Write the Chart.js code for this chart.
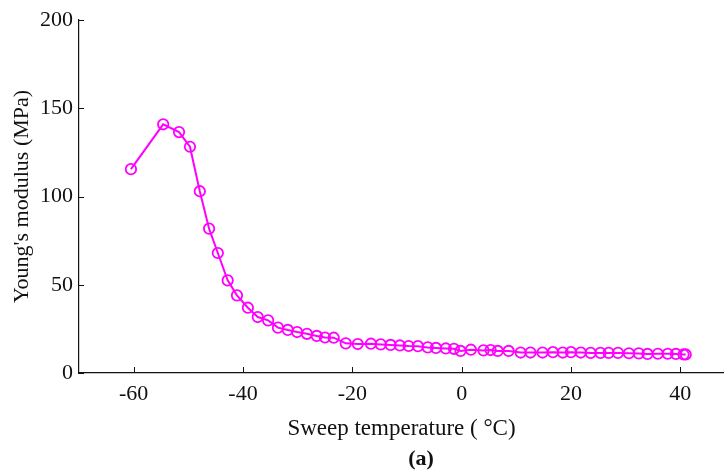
<!DOCTYPE html>
<html>
<head>
<meta charset="utf-8">
<script src="https://cdn.jsdelivr.net/npm/chart.js@4.4.1/dist/chart.umd.min.js"></script>
<style>
  html, body { margin: 0; padding: 0; background: #fff; }
  canvas { display: block; }
</style>
</head>
<body>
<canvas id="c" width="724" height="473"></canvas>
<script>
// Young's modulus vs sweep temperature
const temps = [
  -60.5, -54.6, -51.7, -49.7, -47.9, -46.2, -44.6, -42.8, -41.1, -39.1,
  -37.3, -35.4, -33.6, -31.8, -30.1, -28.3, -26.5, -25.0, -23.4, -21.2,
  -19.0, -16.6, -14.8, -13.0, -11.3, -9.7, -8.0, -6.2, -4.7, -2.9,
  -1.4, -0.2, 1.7, 4.0, 5.3, 6.6, 8.6, 10.8, 12.6, 14.8,
  16.7, 18.5, 20.0, 21.8, 23.6, 25.4, 26.9, 28.6, 30.6, 32.4,
  34.0, 35.9, 37.7, 39.2, 40.6, 41.0
];
const modulus = [
  115.5, 140.9, 136.5, 128.2, 103.0, 81.8, 68.0, 52.5, 44.0, 37.0,
  31.7, 29.8, 25.7, 24.4, 23.2, 22.2, 21.0, 20.1, 20.0, 16.8,
  16.4, 16.6, 16.2, 15.9, 15.6, 15.3, 15.2, 14.5, 14.2, 13.9,
  13.7, 12.5, 13.2, 12.8, 13.0, 12.5, 12.5, 11.6, 11.6, 11.6,
  11.8, 11.6, 11.8, 11.6, 11.4, 11.4, 11.4, 11.4, 11.2, 11.1,
  10.8, 10.9, 10.9, 10.8, 10.5, 10.5
];
const xTicks = [-60, -40, -20, 0, 20, 40];
const yTicks = [0, 50, 100, 150, 200];

const SERIF = "'Liberation Serif', 'Times New Roman', serif";
const INK = '#111';
const MAGENTA = '#FF00FF';

// ticks drawn inside the plot area, plus the "(a)" caption
const insideTicks = {
  id: 'insideTicks',
  afterDraw(chart) {
    const { ctx, scales: { x, y }, chartArea } = chart;
    ctx.save();
    ctx.strokeStyle = INK;
    ctx.lineWidth = 1;
    ctx.beginPath();
    xTicks.forEach(v => {
      const px = Math.round(x.getPixelForValue(v)) + 0.5;
      ctx.moveTo(px, chartArea.bottom);
      ctx.lineTo(px, chartArea.bottom - 6);
    });
    yTicks.forEach(v => {
      const py = Math.round(y.getPixelForValue(v)) + 0.5;
      ctx.moveTo(chartArea.left, py);
      ctx.lineTo(chartArea.left + 5, py);
    });
    ctx.stroke();
    ctx.fillStyle = INK;
    ctx.font = `bold 22px ${SERIF}`;
    ctx.textAlign = 'center';
    ctx.textBaseline = 'middle';
    ctx.fillText('(a)', 421, 459);
    ctx.restore();
  }
};

new Chart(document.getElementById('c').getContext('2d'), {
  type: 'scatter',
  data: {
    datasets: [{
      data: temps.map((t, i) => ({ x: t, y: modulus[i] })),
      showLine: true,
      borderColor: MAGENTA,
      borderWidth: 2,
      pointStyle: 'circle',
      pointRadius: 5.2,
      pointBorderWidth: 1.8,
      pointBorderColor: MAGENTA,
      pointBackgroundColor: 'rgba(0,0,0,0)',
      tension: 0,
    }],
  },
  options: {
    responsive: false,
    animation: false,
    layout: { autoPadding: false, padding: { top: 20, right: 0, left: 0, bottom: 0 } },
    plugins: {
      legend: { display: false },
      tooltip: { enabled: false },
    },
    scales: {
      x: {
        type: 'linear',
        min: -70,
        max: 48,
        afterBuildTicks: (s) => { s.ticks = xTicks.map(v => ({ value: v })); },
        afterFit: (s) => { s.height = 100; },
        grid: { display: false, drawTicks: false },
        border: { display: true, color: INK, width: 1.2 },
        ticks: { color: INK, font: { family: SERIF, size: 22 }, padding: 8, maxRotation: 0 },
        title: {
          display: true,
          text: 'Sweep temperature ( °C)',
          color: INK,
          font: { family: SERIF, size: 23 },
          padding: { top: 4, bottom: 30 },
        },
      },
      y: {
        min: 0,
        max: 200,
        afterBuildTicks: (s) => { s.ticks = yTicks.map(v => ({ value: v })); },
        afterFit: (s) => { s.width = 79; },
        grid: { display: false, drawTicks: false },
        border: { display: true, color: INK, width: 1.2 },
        ticks: { color: INK, font: { family: SERIF, size: 22 }, padding: 6 },
        title: {
          display: true,
          text: "Young's modulus (MPa)",
          color: INK,
          font: { family: SERIF, size: 22 },
          padding: { top: 9, bottom: 0 },
        },
      },
    },
  },
  plugins: [insideTicks],
});
</script>
</body>
</html>
